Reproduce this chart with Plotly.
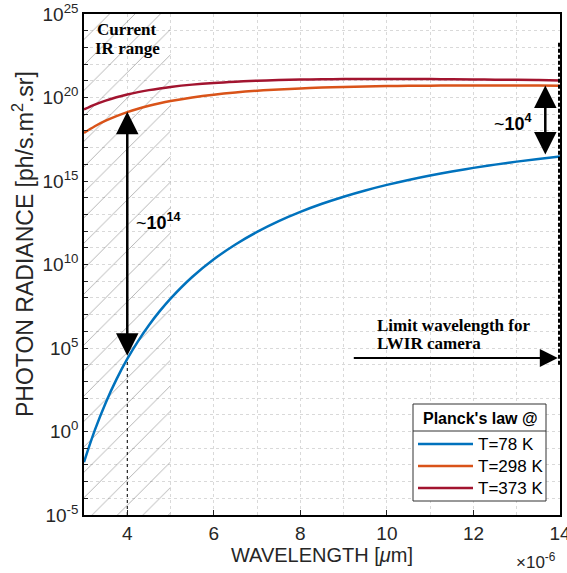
import plotly.graph_objects as go

# ---------------- data ----------------
wavelength_um = [3, 3.25, 3.5, 3.75, 4, 4.25, 4.5, 4.75, 5, 5.5, 6, 6.5, 7, 7.5, 8,
                 8.5, 9, 9.5, 10, 10.5, 11, 11.5, 12, 12.5, 13, 13.5, 14]
# log10 of photon radiance
log_rad_78 = [-1.834, 0.081, 1.713, 3.119, 4.342, 5.415, 6.363, 7.206, 7.960, 9.251,
              10.313, 11.201, 11.953, 12.597, 13.151, 13.635, 14.060, 14.434, 14.767,
              15.063, 15.329, 15.569, 15.785, 15.981, 16.160, 16.322, 16.471]
log_rad_298 = [17.879, 18.278, 18.611, 18.890, 19.128, 19.330, 19.505, 19.657, 19.788,
               20.004, 20.171, 20.300, 20.402, 20.482, 20.545, 20.595, 20.633, 20.662,
               20.684, 20.700, 20.711, 20.718, 20.722, 20.722, 20.720, 20.716, 20.710]
log_rad_373 = [19.285, 19.575, 19.815, 20.015, 20.182, 20.322, 20.442, 20.544, 20.632,
               20.771, 20.874, 20.950, 21.006, 21.046, 21.075, 21.094, 21.105, 21.111,
               21.112, 21.109, 21.103, 21.094, 21.083, 21.070, 21.056, 21.041, 21.025]
series_names = ["T=78 K", "T=298 K", "T=373 K"]
series_colors = ["#0072BD", "#D95319", "#A2142F"]
x_tick_um = [4, 6, 8, 10, 12, 14]
x_minor_um = [3, 5, 7, 9, 11, 13]
x_range_um = [3, 14]
y_decades = list(range(-5, 26))

# annotation data
ir_range_um = [3, 5]
arrow1_x_um, arrow1_log = 4, [19.15, 4.45]
arrow2_x_um, arrow2_log = 13.66, [20.72, 16.5]
limit_um, limit_log_span = 14, [4.0, 23.4]
harrow_um, harrow_log = [9.2, 13.95], 4.4

FONT = "Liberation Sans, Arial, sans-serif"
SERIF = "Liberation Serif, Times New Roman, serif"
TXT = "#262626"

def um(v):
    return v * 1e-6

def px2paper(px, py):
    return (px - 84) / 476, (515 - py) / 501

x_m = [um(v) for v in wavelength_um]
series = [log_rad_78, log_rad_298, log_rad_373]

fig = go.Figure()

# hatched "current IR range" area
fig.add_trace(go.Scatter(
    x=[um(ir_range_um[0]), um(ir_range_um[1]), um(ir_range_um[1]), um(ir_range_um[0]), um(ir_range_um[0])],
    y=[1e-5, 1e-5, 1e25, 1e25, 1e-5],
    mode="lines", line=dict(width=0), fill="toself", fillcolor="rgba(0,0,0,0)",
    fillpattern=dict(shape="/", size=18, solidity=0.05, fgcolor="rgba(60,60,60,0.85)",
                     bgcolor="rgba(0,0,0,0)"),
    hoverinfo="skip", showlegend=False))

# dotted vertical at 4 um
fig.add_trace(go.Scatter(x=[um(arrow1_x_um)] * 2, y=[1e-5, 10 ** 4.34], mode="lines",
                         line=dict(color="black", width=1, dash="dot"), showlegend=False,
                         hoverinfo="skip"))

for vals, name, col in zip(series, series_names, series_colors):
    fig.add_trace(go.Scatter(x=x_m, y=[10 ** v for v in vals], mode="lines", name=name,
                             line=dict(color=col, width=2.5, shape="spline"),
                             showlegend=False))

# thick dashed limit line at 14 um
fig.add_trace(go.Scatter(x=[um(limit_um)] * 2, y=[10 ** v for v in limit_log_span],
                         mode="lines", line=dict(color="black", width=4, dash="4px,2px"),
                         cliponaxis=False, showlegend=False, hoverinfo="skip"))

ann = []
# double arrows
for xu, (ytop, ybot) in [(arrow1_x_um, arrow1_log), (arrow2_x_um, arrow2_log)]:
    ann.append(dict(x=um(xu), y=ytop, ax=um(xu), ay=ybot, xref="x", yref="y",
                    axref="x", ayref="y", showarrow=True, arrowhead=2, startarrowhead=2,
                    arrowside="end+start", arrowsize=1.8, startarrowsize=1.8,
                    arrowwidth=2.5, arrowcolor="black", text=""))
# horizontal arrow
ann.append(dict(x=um(harrow_um[1]), y=harrow_log, ax=um(harrow_um[0]), ay=harrow_log,
                xref="x", yref="y", axref="x", ayref="y", showarrow=True, arrowhead=2,
                arrowsize=1.8, arrowwidth=2, arrowcolor="black", text=""))

ann.append(dict(x=um(4.15), y=12.6, xref="x", yref="y", xanchor="left", yanchor="middle",
                showarrow=False, text="~<b>10<sup>14</sup></b>",
                font=dict(family=FONT, size=18, color="black")))
ann.append(dict(x=um(12.43), y=18.5, xref="x", yref="y", xanchor="left", yanchor="middle",
                showarrow=False, text="~<b>10<sup>4</sup></b>",
                font=dict(family=FONT, size=18, color="black")))

# serif bold text lines (placed by pixel position of their centres / left edges)
for txt, px, py, anchor in [("Current", 127, 29, "center"), ("IR range", 127, 49, "center"),
                            ("Limit wavelength for", 375, 325, "left"),
                            ("LWIR camera", 375, 343, "left")]:
    ax_, ay_ = px2paper(px, py)
    ann.append(dict(x=ax_, y=ay_, xref="paper", yref="paper", xanchor=anchor,
                    yanchor="middle", showarrow=False, text="<b>%s</b>" % txt,
                    font=dict(family=SERIF, size=17, color="black")))

# y-axis title
yx, yy = px2paper(23, 244)
ann.append(dict(x=yx, y=yy, xref="paper", yref="paper", xanchor="center", yanchor="middle",
                textangle=-90, showarrow=False,
                text="PHOTON RADIANCE [ph/s.m<sup>2</sup>.sr]",
                font=dict(family=FONT, size=23, color=TXT)))

# x10^-6 exponent label
ex, ey = px2paper(536, 561)
ann.append(dict(x=ex, y=ey, xref="paper", yref="paper", xanchor="center",
                yanchor="middle", showarrow=False, text="×10<sup>-6</sup>",
                font=dict(family=FONT, size=17, color=TXT)))

# ---- custom legend (paper coords) ----
bx0, by0 = px2paper(413, 404)
bx1, by1 = px2paper(546, 501)
shapes = [dict(type="rect", xref="paper", yref="paper", x0=bx0, y0=by1, x1=bx1, y1=by0,
               fillcolor="white", line=dict(color="#333333", width=1), layer="above")]
sx0, sy = px2paper(413, 431)
sx1, _ = px2paper(546, 431)
shapes.append(dict(type="line", xref="paper", yref="paper", x0=sx0, x1=sx1, y0=sy, y1=sy,
                   line=dict(color="#333333", width=1), layer="above"))
tx, ty = px2paper(480, 418)
ann.append(dict(x=tx, y=ty, xref="paper", yref="paper", xanchor="center", yanchor="middle",
                showarrow=False, text="<b>Planck's law @</b>",
                font=dict(family=FONT, size=16, color="black")))
for i, (name, col) in enumerate(zip(series_names, series_colors)):
    py = 444 + 22 * i
    lx0, ly = px2paper(418, py)
    lx1, _ = px2paper(473, py)
    shapes.append(dict(type="line", xref="paper", yref="paper", x0=lx0, x1=lx1, y0=ly, y1=ly,
                       line=dict(color=col, width=2.5), layer="above"))
    txp, _ = px2paper(476, py)
    ann.append(dict(x=txp, y=ly, xref="paper", yref="paper", xanchor="left", yanchor="middle",
                    showarrow=False, text=name, font=dict(family=FONT, size=17, color="black")))

grid = dict(showgrid=True, gridcolor="#d9d9d9", griddash="dot", gridwidth=1)

fig.update_layout(
    width=567, height=573, margin=dict(l=84, r=7, t=14, b=58, autoexpand=False),
    paper_bgcolor="white", plot_bgcolor="white",
    font=dict(family=FONT, color=TXT),
    showlegend=False,
    annotations=ann, shapes=shapes,
    xaxis=dict(range=[um(x_range_um[0]), um(x_range_um[1])], tickmode="array",
               tickvals=[um(v) for v in x_tick_um], automargin=False,
               ticktext=[str(v) for v in x_tick_um], ticks="inside", ticklen=5,
               tickcolor="#262626", showline=True, linecolor="black", linewidth=1.5,
               mirror=True, tickfont=dict(size=19, color=TXT), ticklabeloverflow="allow",
               title=dict(text="WAVELENGTH [<i>μ</i>m]", font=dict(size=20, color=TXT), standoff=2),
               minor=dict(tickmode="array", tickvals=[um(v) for v in x_minor_um], ticks="",
                          showgrid=True, gridcolor="#d9d9d9", griddash="dot", gridwidth=1),
               zeroline=False, **grid),
    yaxis=dict(type="log", range=[-5, 25], tickmode="array", automargin=False,
               tickvals=[10.0 ** k for k in y_decades],
               ticktext=[("10<sup>%d</sup>" % k) if k % 5 == 0 else "" for k in y_decades],
               ticks="inside", ticklen=4, tickcolor="#262626", showline=True,
               linecolor="black", linewidth=1.5, mirror=True,
               tickfont=dict(size=19, color=TXT),
               zeroline=False, **grid),
)

fig.write_html("out.html")
